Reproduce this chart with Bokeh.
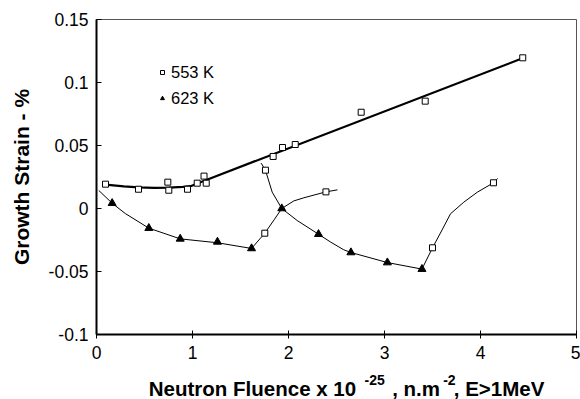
from bokeh.plotting import figure
from bokeh.layouts import column
from bokeh.models import Range1d, FixedTicker, Legend, LegendItem
from bokeh.core.properties import value
from bokeh.embed import file_html
from bokeh.resources import INLINE

# ---- data ----
x553 = [0.094, 0.4375, 0.743, 0.753, 0.948, 1.049, 1.12, 1.143, 1.76, 1.84, 1.9375, 2.07,
        2.757, 3.424, 4.44, 2.39, 1.753, 4.135, 3.5]
y553 = [0.0193, 0.0153, 0.0209, 0.0145, 0.0153, 0.0201, 0.0257, 0.0201, 0.0304, 0.0413, 0.0484, 0.0508,
        0.0764, 0.0852, 0.1196, 0.0132, -0.0196, 0.0204, -0.0312]

x623 = [0.163, 0.545, 0.872, 1.26, 1.615, 1.93, 2.3125, 2.65, 3.03, 3.39]
y623 = [0.0042, -0.0156, -0.0241, -0.0265, -0.0317, 0.0, -0.0204, -0.0349, -0.0429, -0.0481]

# trend line through 553 K data
trend_x = [0.094, 0.285, 0.4375, 0.6, 0.753, 0.9, 0.98, 1.083, 4.43]
trend_y = [0.019, 0.0175, 0.0167, 0.0164, 0.0165, 0.0172, 0.0177, 0.0209, 0.119]

# thin smooth curves
c1_x = [0.024, 0.163, 0.3, 0.545, 0.872, 1.26, 1.615]
c1_y = [0.0143, 0.0042, -0.004, -0.0156, -0.0241, -0.0272, -0.0317]
c2_x = [1.615, 1.753, 1.85, 1.93, 2.055, 2.16, 2.39, 2.51]
c2_y = [-0.0317, -0.0196, -0.009, 0.0, 0.006, 0.0085, 0.0132, 0.0148]
c3_x = [1.715, 1.76, 1.83, 1.93, 2.09, 2.3125, 2.44, 2.576, 2.65, 3.03, 3.39]
c3_y = [0.036, 0.0304, 0.013, 0.0, -0.0095, -0.0204, -0.0267, -0.0328, -0.0349, -0.0429, -0.0481]
c4_x = [3.39, 3.5, 3.6, 3.6875, 3.826, 3.966, 4.135, 4.18]
c4_y = [-0.0481, -0.0312, -0.017, -0.0042, 0.005, 0.0129, 0.0204, 0.0238]

x_ticks = [0, 1, 2, 3, 4, 5]
y_ticks = [-0.1, -0.05, 0, 0.05, 0.1, 0.15]
y_tick_labels = ["-0.1", "-0.05", "0", "0.05", "0.1", "0.15"]
series_names = ["553 K", "623 K"]
x_title_parts = ["Neutron Fluence x 10", "-25", ", n.m", "-2", ", E>1MeV"]

FONT = "Liberation Sans"

p = figure(width=580, height=370, output_backend="svg", toolbar_location=None,
           x_range=Range1d(0, 5), y_range=Range1d(-0.1, 0.15),
           min_border_left=96, min_border_right=4, min_border_top=19, min_border_bottom=36)
p.grid.visible = False
p.background_fill_color = "white"
p.border_fill_color = "white"
p.outline_line_color = "#555555"
p.outline_line_width = 1

# curves
p.line(trend_x, trend_y, line_color="black", line_width=2.2)
for cx, cy in [(c1_x, c1_y), (c2_x, c2_y), (c3_x, c3_y), (c4_x, c4_y)]:
    p.line(cx, cy, line_color="black", line_width=1)

r553 = p.scatter(x553, y553, marker="square", size=6, fill_color="white",
                 line_color="black", line_width=1)
r623 = p.scatter(x623, y623, marker="triangle", size=8, fill_color="black",
                 line_color="black", line_width=1)

legend = Legend(items=[LegendItem(label=series_names[0], renderers=[r553]),
                       LegendItem(label=series_names[1], renderers=[r623])],
                location=(61, 225), border_line_alpha=0, background_fill_alpha=0,
                padding=0, margin=0, spacing=4, glyph_width=10, glyph_height=22,
                label_height=22, label_standoff=4,
                label_text_font=FONT, label_text_font_size="16.5px", label_text_color="black")
p.add_layout(legend, "center")

# axes
xa = p.xaxis[0]
xa.ticker = FixedTicker(ticks=x_ticks)
xa.axis_line_color = "black"
xa.axis_line_width = 2
xa.major_tick_line_color = "black"
xa.major_tick_in = 4
xa.major_tick_out = 4
xa.minor_tick_line_color = None
xa.major_label_text_font = FONT
xa.major_label_text_font_size = "17.5px"
xa.major_label_text_color = "black"
xa.major_label_standoff = 7

ya = p.yaxis[0]
ya.ticker = FixedTicker(ticks=y_ticks)
ya.major_label_overrides = {t: l for t, l in zip(y_ticks, y_tick_labels)}
ya.axis_line_color = "black"
ya.axis_line_width = 2
ya.major_tick_line_color = "black"
ya.major_tick_in = 5
ya.major_tick_out = 0
ya.minor_tick_line_color = None
ya.major_label_text_font = FONT
ya.major_label_text_font_size = "17.5px"
ya.major_label_text_color = "black"
ya.major_label_standoff = 8
ya.axis_label = "Growth Strain - %"
ya.axis_label_text_font = FONT
ya.axis_label_text_font_style = "bold"
ya.axis_label_text_font_size = "21px"
ya.axis_label_text_color = "black"
ya.axis_label_standoff = 13

# x-axis title strip; its frame lines up with the main frame (x px 96..576)
t = figure(width=580, height=29, output_backend="svg", toolbar_location=None,
           x_range=Range1d(96, 576), y_range=Range1d(0, 29),
           min_border=0, min_border_top=0, min_border_bottom=0)
t.axis.visible = False
t.grid.visible = False
t.outline_line_color = None
t.background_fill_color = "white"
t.border_fill_color = "white"

part_x = [148.3, 364, 391.7, 442.7, 453.3]
part_y = [11, 20, 11, 20, 11]
part_size = ["20.5px", "14px", "20.5px", "14px", "20.5px"]
for txt, sx, sy, fs in zip(x_title_parts, part_x, part_y, part_size):
    t.text(x=[sx], y=[sy], text=[txt], text_font=value(FONT), text_font_style="bold",
           text_font_size=fs, text_color="black", text_align="left", text_baseline="alphabetic")

layout = column(p, t, spacing=0)
open("out.html", "w").write(file_html(layout, INLINE))
